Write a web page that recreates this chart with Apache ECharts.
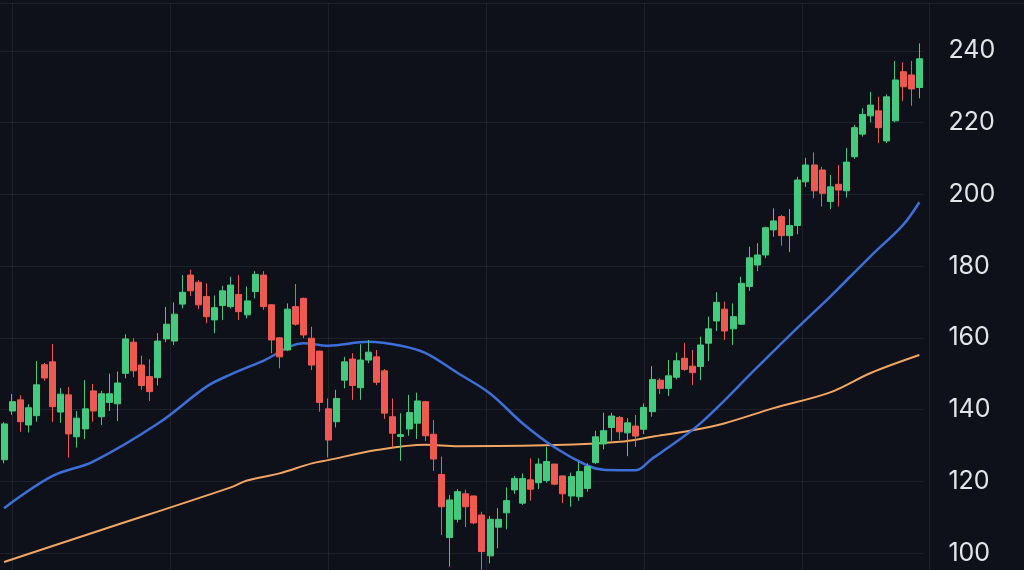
<!DOCTYPE html>
<html>
<head>
<meta charset="utf-8">
<script src="https://cdn.jsdelivr.net/npm/echarts@6/dist/echarts.min.js"></script>
<style>
html,body{margin:0;padding:0;background:#0e111a;}
#chart{width:1024px;height:570px;}
</style>
</head>
<body>
<div id="chart"></div>
<script>
// ---- data ----
const opens  = [126,139.6,142.7,135.7,138.3,152.5,153.3,139.3,144.1,132.4,134.6,145.2,138,142,141.6,150.1,158.8,152.4,149.2,148.9,
  159.7,159.1,169.4,177.5,175.5,171.5,165,169,168.7,172.1,166.4,172.9,177.5,169.2,160,156.6,168.7,171,159.9,156.3,
  140.2,136.6,148.2,154.1,146.1,153.8,154.7,150.8,138,132.5,134.6,136.2,142.2,133.1,121.9,104.3,109.4,116.5,115.9,110.6,
  99.2,107.2,111.2,117.6,113.9,120.4,119.6,120.2,124.8,121.5,115.9,115.7,118,125.2,130.4,135,137.8,133.5,135.4,134.5,
  139.4,148.2,145.9,149,154.3,152.1,152,158.5,164.7,168,162.5,163.8,174.3,180.3,183.1,190.1,193.8,188.5,191.3,203.5,
  208.2,206.8,198,202.8,201,210.5,216.8,221.9,223.3,214.9,220.5,234.2,233.3,229.8];
const closes = [136,142.2,136.6,140.5,146.9,148.8,140.8,144.3,133.2,137.6,140.2,139.6,144.4,144.4,147.4,159.7,150.8,146.7,145,159.1,
  163.8,166.6,172.7,173.1,169.2,165.9,168.4,173.1,174.7,167.3,170.3,177.7,168.7,159.4,154.7,168,163.8,160.8,152.4,142,
  131.5,143.1,153.3,146.7,153.8,156,147.6,139,133.4,133,139.2,142.4,132.7,126.2,112.9,114.8,117.1,112.9,108.4,100.4,
  109.4,109.4,114.6,120.8,120.8,117.8,124.8,125.5,119.2,116.5,121.3,122.7,124.1,132.4,134.1,138.2,133.8,136.3,132.6,140.6,
  148.4,145.9,149.4,153.6,151.2,150.3,158,162.5,169.9,161.9,165.9,175.2,182.3,183.1,190.7,192.6,188.5,191.3,204,208.2,
  201,200.3,202.1,201.2,209,218.6,222.3,224.9,218.6,227.2,231.9,230,229.4,237.8];
const lows   = [125,138.5,133.8,133.6,136.6,148,136.5,136.3,126.6,129.4,131.8,136.6,135.7,139.6,136.8,148.7,149,145.5,142.4,146.7,
  158.8,158,168.2,171.7,168,164.1,161.3,165,168.2,165,165.4,171,167.8,155.7,151.5,156.3,163.4,159.9,151,139.4,
  126.6,135,145.9,142.7,142.7,152.9,146.8,137.4,129.4,125.7,132.7,131.8,131.2,122.9,105,96.2,108.5,107.3,108,95.3,
  97.1,101.3,106.6,116.5,113.4,114.6,117.8,119.6,118.9,113.9,112.9,114.6,117.1,124.8,128.9,131.3,131.5,127,129.6,133.2,
  138,144.3,143.8,148.4,150.8,146.8,148.2,153.5,161.9,159.4,158,163.6,173.1,178.6,182.2,188.2,185.7,183.9,188.9,202.1,
  198.9,196.6,195.9,196.6,199.1,209.9,216.1,220.1,214.3,214.3,220.1,226,224.7,226.8];
const highs  = [136.5,144.3,144,141.5,153.5,153,158.3,146,146.3,139.6,148.2,147.1,145.2,150,150.6,161,159.9,155,154,161.3,
  168.6,169.9,177.5,179,176.1,175.2,171.8,174.5,177,177.5,174.3,178.6,178.6,169.4,160.2,169.6,175,171.2,163.1,156.3,
  143.1,145.5,154.7,155.7,158.2,159.4,156.6,151.3,143.1,139,144.1,144.7,142.4,137.1,126.9,116.2,117.8,117.6,116,111.5,
  110.3,112.5,118.3,121.5,122.2,126.4,126.4,129.6,124.8,121.5,122.4,125.5,125,134.1,139.1,139.1,138.2,137.6,138.5,141.7,
  152.1,148.7,153.8,155.9,158.6,156.6,160.3,165.9,172.7,170.1,169.6,177,185.4,186.4,191,196.1,194.3,195.9,204.9,210.2,
  211.7,207.7,205.4,208.2,212.9,219.4,224,228.6,227.2,227.9,237.2,236.8,237.2,242.1];
const categories = opens.map((_, i) => 'Day ' + (i + 1));

// moving-average lines (candle index, value)
const blueIdx = [0,6,11,19,25,28,32,37,40,45,49,52,56,60,64,68,72,74,76,78,80,81,86,93,98,102,107,111,113];
const blueVal = [112.5,121.5,125.5,136.1,146.4,149.8,153.6,158.5,157.8,158.9,157.8,155.8,150.2,144.5,136.2,129.4,124.4,123.2,123.1,123.1,126.3,127.8,136.2,151.8,162.9,171.5,182.8,191.5,197.8];
const orangeIdx = [0,12,28,30,34,38,40,46,52,56,68,76,80,85,89,95,102,107,113];
const orangeVal = [97.5,106.4,118.3,120.2,122.2,125.0,125.9,128.7,130.2,129.8,130.1,131.0,132.4,134.2,136.2,140.4,144.8,150.2,155.2];
const yTicks = [100,120,140,160,180,200,220,240];

// ---- chart ----
const ohlc = opens.map((o, i) => [o, closes[i], lows[i], highs[i]]);
const blueData = blueIdx.map((x, i) => [x, blueVal[i]]);
const orangeData = orangeIdx.map((x, i) => [x, orangeVal[i]]);
const gridColor = 'rgba(255,255,255,0.07)';

const chart = echarts.init(document.getElementById('chart'), null, {renderer: 'canvas'});
chart.setOption({
  backgroundColor: '#0e111a',
  animation: false,
  grid: [
    {left: 0, right: 100.6, top: 0, bottom: 0},
    {left: 12, right: 95, top: 3, bottom: 0}
  ],
  xAxis: [
    {type: 'category', data: categories, gridIndex: 0, boundaryGap: true,
     axisLine: {show: false}, axisTick: {show: false}, axisLabel: {show: false}, splitLine: {show: false}},
    {type: 'value', gridIndex: 1, min: 0, max: 917, interval: 158,
     axisLine: {show: false}, axisTick: {show: false}, axisLabel: {show: false},
     splitLine: {show: true, lineStyle: {color: gridColor, width: 1}}}
  ],
  yAxis: [
    {type: 'value', gridIndex: 0, position: 'right', min: 95.26, max: 254.2, splitNumber: 8,
     axisLine: {show: false}, axisTick: {show: false},
     axisLabel: {show: true, color: '#e2e5ea', fontSize: 25, fontFamily: 'Inter', margin: 25, align: 'left',
       showMinLabel: false, showMaxLabel: false,
       formatter: v => yTicks.indexOf(Math.round(v)) >= 0 && Math.abs(v - Math.round(v)) < 1e-6 ? String(Math.round(v)) : ''},
     splitLine: {show: true, showMinLine: false, showMaxLine: false, lineStyle: {color: gridColor, width: 1}}},
    {type: 'value', gridIndex: 1, min: 0, max: 1, interval: 1,
     axisLine: {show: false}, axisTick: {show: false}, axisLabel: {show: false}, splitLine: {show: false}}
  ],
  graphic: [
    {type: 'line', shape: {x1: 0, y1: 3.5, x2: 1024, y2: 3.5}, style: {stroke: gridColor, lineWidth: 1}, silent: true}
  ],
  series: [
    {type: 'line', name: 'MA long', xAxisIndex: 0, yAxisIndex: 0, data: orangeData, smooth: 0.35,
     showSymbol: false, symbol: 'none', lineStyle: {color: '#f2a562', width: 2}, z: 2},
    {type: 'line', name: 'MA short', xAxisIndex: 0, yAxisIndex: 0, data: blueData, smooth: 0.35,
     showSymbol: false, symbol: 'none', lineStyle: {color: '#3d6fd9', width: 2.5}, z: 2},
    {type: 'candlestick', name: 'Price', xAxisIndex: 0, yAxisIndex: 0, data: ohlc, barWidth: 6.5, z: 3,
     itemStyle: {color: '#45c97e', color0: '#ee5a52', borderColor: '#45c97e', borderColor0: '#ee5a52', borderWidth: 1}}
  ]
});
</script>
</body>
</html>
